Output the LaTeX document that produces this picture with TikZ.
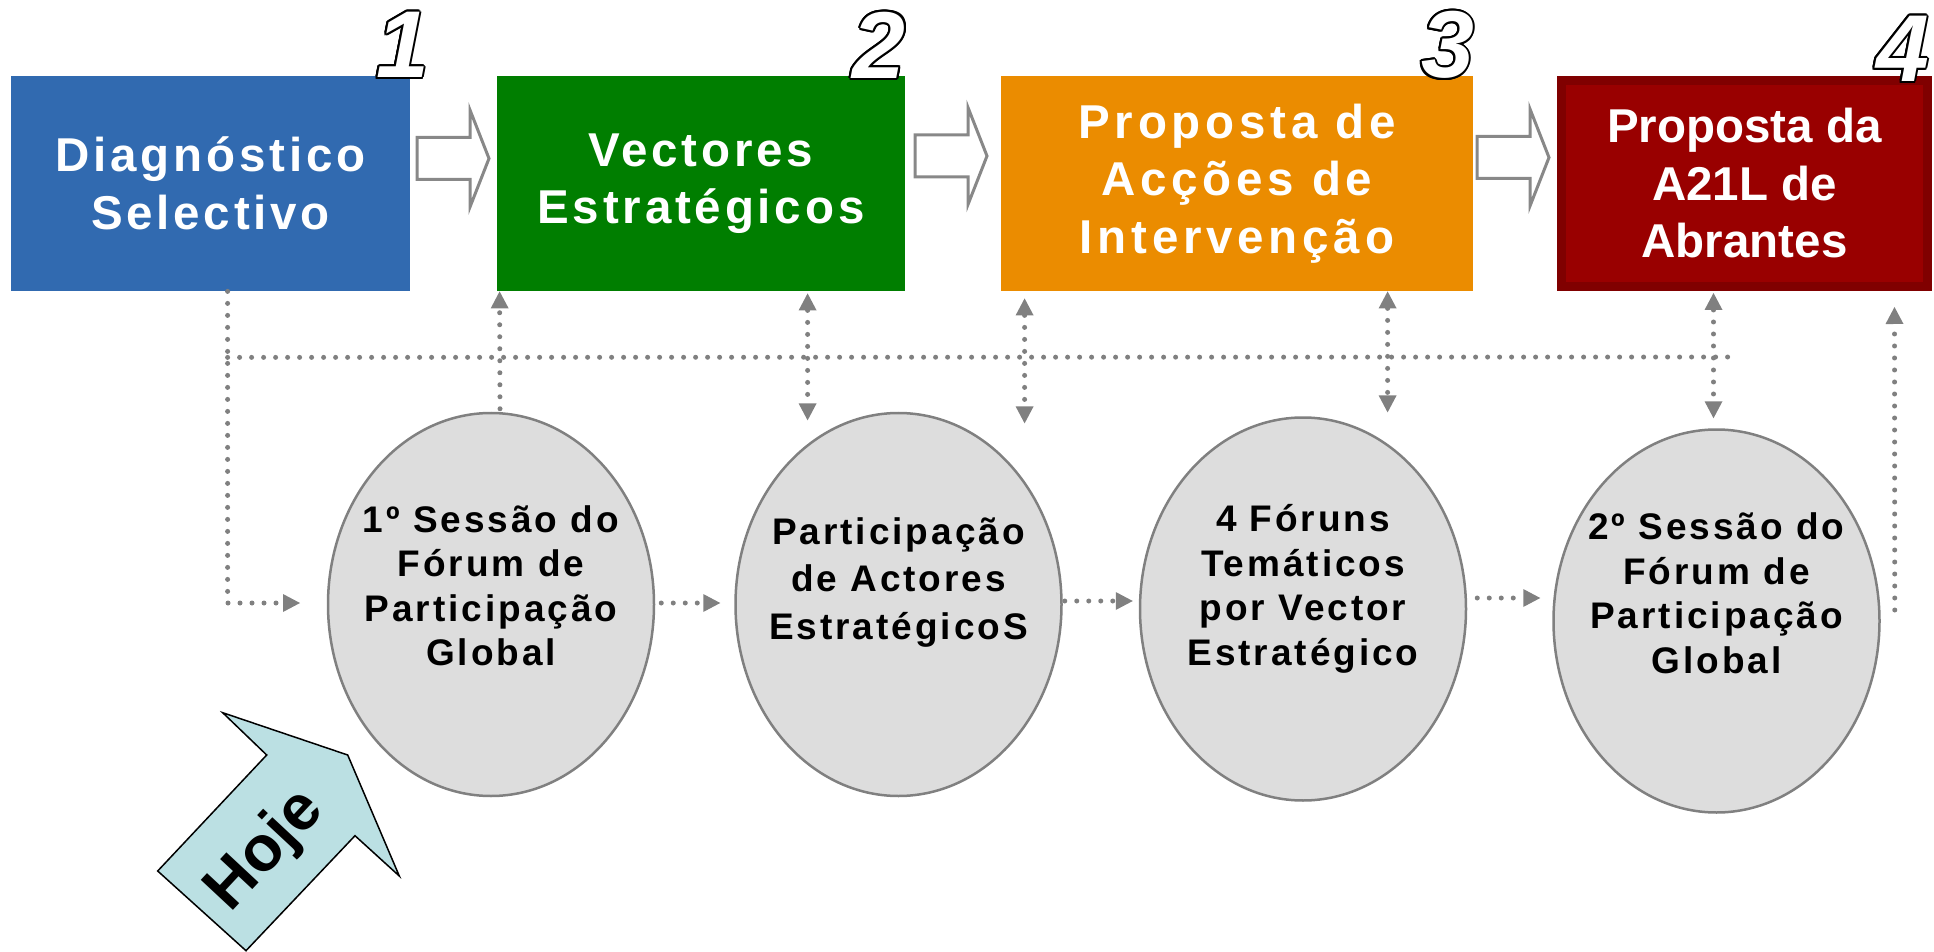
\documentclass[tikz,border=0pt]{standalone}
\usepackage{fontspec}
\setmainfont{Liberation Sans}
\newfontfamily\boxfont{Liberation Sans}[LetterSpace=8]
\newfontfamily\boxfontwide{Liberation Sans}[LetterSpace=10]
\newfontfamily\fasefont{Liberation Sans}[LetterSpace=8]
\usepackage{contour}
\contourlength{1pt}
\usetikzlibrary{arrows.meta,shapes.geometric,calc}

\definecolor{diagblue}{HTML}{316AB0}
\definecolor{vectgreen}{HTML}{007E00}
\definecolor{proporange}{HTML}{EB8C00}
\definecolor{a21red}{HTML}{990000}
\definecolor{a21edge}{HTML}{800000}
\definecolor{fasefill}{HTML}{DDDDDD}
\definecolor{faseedge}{HTML}{808080}
\definecolor{linkgray}{HTML}{808080}
\definecolor{hollowgray}{HTML}{888888}
\definecolor{hojefill}{HTML}{BBE0E3}

\begin{document}
\begin{tikzpicture}[x=0.5pt, y=-0.5pt, >={Triangle[length=8.5pt,width=9pt,line width=0pt]}]
    \tikzstyle{box} = [rectangle, inner sep=0pt, minimum height=107.5pt, text=white, align=center, font=\boxfont\bfseries\fontsize{23.75}{28.75}\selectfont]
    \tikzstyle{fase} = [ellipse, draw=faseedge, fill=fasefill, line width=1.25pt, minimum width=163pt, minimum height=191.5pt, inner sep=0pt]
    \tikzstyle{fasetext} = [align=center, inner sep=0pt, font=\fasefont\bfseries\fontsize{18.5}{22.25}\selectfont]
    \tikzstyle{num} = [inner sep=0pt, text=white, font=\bfseries\itshape\fontsize{47.5}{50}\selectfont]
    \tikzstyle{hollow} = [draw=hollowgray, fill=white, line width=1.5pt, line join=miter]
    \tikzstyle{dotlink} = [draw=linkgray, line width=2.5pt, line cap=round, dash pattern=on 0pt off 6pt]

    \useasboundingbox (0,0) rectangle (1934,952);

    % etapas
    \node [box, fill=diagblue, minimum width=199.5pt] (d1) at (210.5,183.5) {Diagnóstico\\Selectivo};
    \node [box, fill=vectgreen, minimum width=204pt] (d2) at (701,183.5) {Vectores\\Estratégicos};
    \node [box, fill=proporange, minimum width=236pt, font=\boxfontwide\bfseries\fontsize{23.75}{28.75}\selectfont] (d3) at (1237,183.5) {Proposta de\\Acções de\\Intervenção};
    \node [box, fill=a21red, draw=a21edge, line width=4.5pt, minimum width=183pt, minimum height=103pt, font=\bfseries\fontsize{23.75}{28.75}\selectfont] (d4) at (1744.5,183.5) {Proposta da\\A21L de\\Abrantes};

    \node [num] (n1) at (402.5,46) {\contour{black}{1}};
    \node [num] (n2) at (879,46) {\contour{black}{2}};
    \node [num] (n3) at (1447.5,46) {\contour{black}{3}};
    \node [num] (n4) at (1902.5,50) {\contour{black}{4}};

    \foreach \x/\y in {417/158.5, 915/156, 1477/157.5}
      \draw [hollow] (\x,\y-21) -- ++(53,0) -- ++(0,-27.5) -- ++(19,48.5) -- ++(-19,48.5) -- ++(0,-27.5) -- ++(-53,0) -- cycle;

    % participacao
    \node [fase] (f1) at (491,604.5) {};
    \node [fase] (f2) at (898.5,604.5) {};
    \node [fase] (f3) at (1303,609) {};
    \node [fase] (f4) at (1716.5,621) {};

    \node [fasetext] (t1) at ($(f1)+(0,-18.5)$) {1º Sessão do\\Fórum de\\Participação\\Global};
    \node [fasetext, font=\fasefont\bfseries\fontsize{18.5}{23.75}\selectfont] (t2) at ($(f2)+(0,-22)$) {Participação\\de Actores\\EstratégicoS};
    \node [fasetext] (t3) at ($(f3)+(0,-20)$) {4 Fóruns\\Temáticos\\por Vector\\Estratégico};
    \node [fasetext] (t4) at ($(f4)+(0,-27.5)$) {2º Sessão do\\Fórum de\\Participação\\Global};

    \coordinate (c1) at (300,603);
    \coordinate (h1) at (1739,357);

    \draw [dotlink] ($(d1.south west)+(217,66)$) -- (h1);
    \draw [dotlink, ->] ($(d1.south west)+(217,0)$) |- (c1);
    \draw [dotlink, ->] ($(f1.north)+(9,-3)$) -- ($(d2.south west)+(3,0)$);
    \draw [dotlink, <->] ($(d2.south west)+(311,2)$) -- ++(0,127);
    \draw [dotlink, <->] ($(d3.south west)+(24,7)$) -- ++(0,125);
    \draw [dotlink, <->] ($(d3.south west)+(387,0)$) -- ++(0,121);
    \draw [dotlink, <->] ($(d4.south)+(-31,2)$) -- ($(f4.north)+(-3,-10)$);
    \draw [dotlink, ->] ($(f4.east)+(14,-11)$) -- ($(d4.south)+(150,16)$);

    \draw [dotlink, ->] ($(f1.east)+(6,-1.5)$) -- ($(f2.west)+(-14,-1.5)$);
    \draw [dotlink, ->] ($(f2.east)+(2,-3.5)$) -- ($(f3.west)+(-6,-8)$);
    \draw [dotlink, ->] ($(f3.east)+(10,-11)$) -- ($(f4.west)+(-12,-23)$);

    % hoje
    \draw [fill=hojefill, draw=black, line width=0.75pt] (157.7,871) -- (266.7,755) -- (222.7,712.7) -- (347.7,755) -- (399.3,876) -- (355,835.7) -- (246,950.7) -- cycle;
    \node [rotate=47, inner sep=0pt, font=\bfseries\fontsize{32}{36}\selectfont] (hoje) at (266,851) {Hoje};
\end{tikzpicture}
\end{document}
